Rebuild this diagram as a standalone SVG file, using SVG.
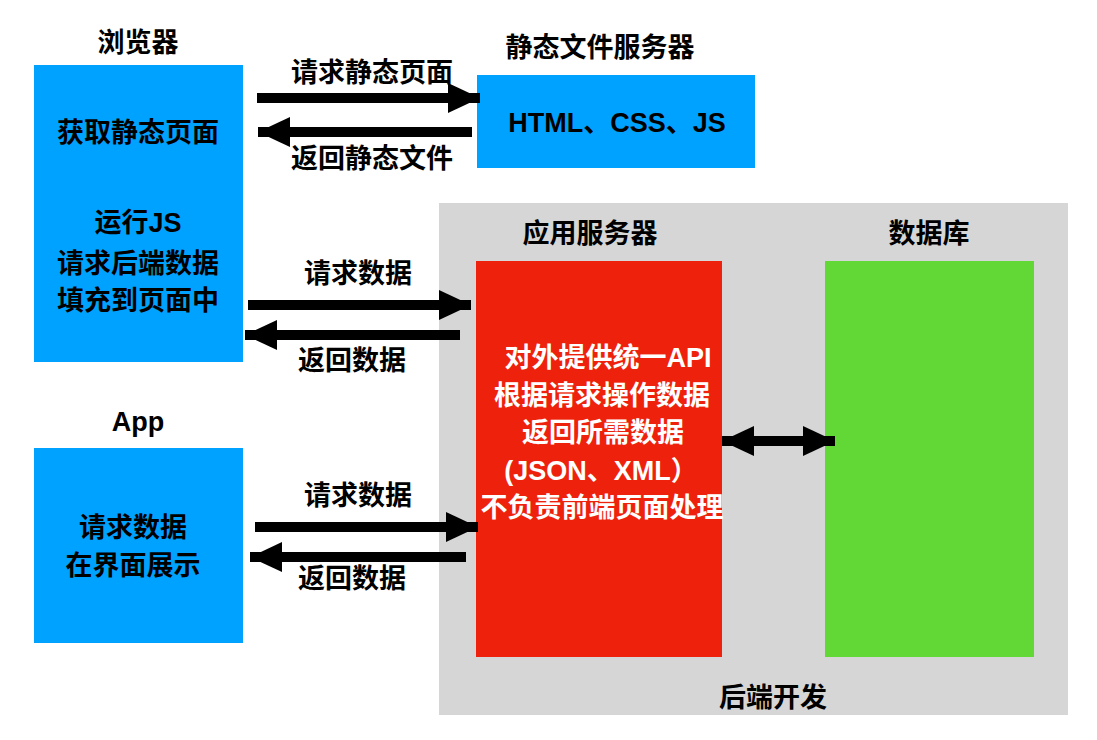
<svg xmlns="http://www.w3.org/2000/svg" width="1097" height="740" viewBox="0 0 1097 740">
<style>
text{font-family:"Liberation Sans","Noto Sans CJK SC",sans-serif;font-weight:bold;font-size:27px;fill:#000}
.w{fill:#fff}
.m{text-anchor:middle}
.ln{stroke:#000;stroke-width:10;fill:none}
</style>
<defs>
<marker id="ah" viewBox="0 0 32 30" refX="32" refY="15" markerWidth="32" markerHeight="30" markerUnits="userSpaceOnUse" orient="auto-start-reverse">
<path d="M0,0L32,15L0,30Z" fill="#000"/>
</marker>
</defs>
<rect width="1097" height="740" fill="#fff"/>
<g id="backend">
<rect x="439" y="203" width="629" height="512" fill="#D6D6D6"/>
<text class="m" x="773" y="707">后端开发</text>
</g>
<g id="browser">
<rect x="34" y="65" width="209" height="297" fill="#00A2FF"/>
<text class="m" x="138" y="52">浏览器</text>
<text class="m" x="138" y="142">获取静态页面</text>
<text class="m" x="138" y="232">运行JS</text>
<text class="m" x="138" y="273">请求后端数据</text>
<text class="m" x="138" y="310">填充到页面中</text>
</g>
<g id="static">
<rect x="477" y="75" width="278" height="93" fill="#00A2FF"/>
<text class="m" x="600" y="57">静态文件服务器</text>
<text class="m" x="617" y="132">HTML、CSS、JS</text>
</g>
<g id="appserver">
<rect x="476" y="261" width="246" height="396" fill="#EE220C"/>
<text class="m" x="590" y="243">应用服务器</text>
<text class="w m" x="608" y="367">对外提供统一API</text>
<text class="w m" x="602" y="405">根据请求操作数据</text>
<text class="w m" x="603" y="442">返回所需数据</text>
<text class="w m" x="601" y="480">(JSON、XML）</text>
<text class="w m" x="602" y="517">不负责前端页面处理</text>
</g>
<g id="database">
<rect x="825" y="261" width="209" height="396" fill="#61D836"/>
<text class="m" x="929" y="243">数据库</text>
</g>
<g id="app">
<rect x="34" y="448" width="209" height="195" fill="#00A2FF"/>
<text class="m" x="138" y="431">App</text>
<text class="m" x="133" y="537">请求数据</text>
<text class="m" x="133" y="575">在界面展示</text>
</g>
<g id="connectors">
<line class="ln" x1="257" y1="98" x2="480" y2="98" marker-end="url(#ah)"/>
<line class="ln" x1="472" y1="132" x2="258" y2="132" marker-end="url(#ah)"/>
<line class="ln" x1="248" y1="305" x2="471" y2="305" marker-end="url(#ah)"/>
<line class="ln" x1="460" y1="335" x2="245" y2="335" marker-end="url(#ah)"/>
<line class="ln" x1="255" y1="527" x2="478" y2="527" marker-end="url(#ah)"/>
<line class="ln" x1="466" y1="557" x2="250" y2="557" marker-end="url(#ah)"/>
<line class="ln" x1="722" y1="441" x2="835" y2="441" marker-start="url(#ah)" marker-end="url(#ah)"/>
<text class="m" x="372" y="82">请求静态页面</text>
<text class="m" x="372" y="168">返回静态文件</text>
<text class="m" x="358" y="283">请求数据</text>
<text class="m" x="352" y="370">返回数据</text>
<text class="m" x="358" y="505">请求数据</text>
<text class="m" x="352" y="588">返回数据</text>
</g>
</svg>
